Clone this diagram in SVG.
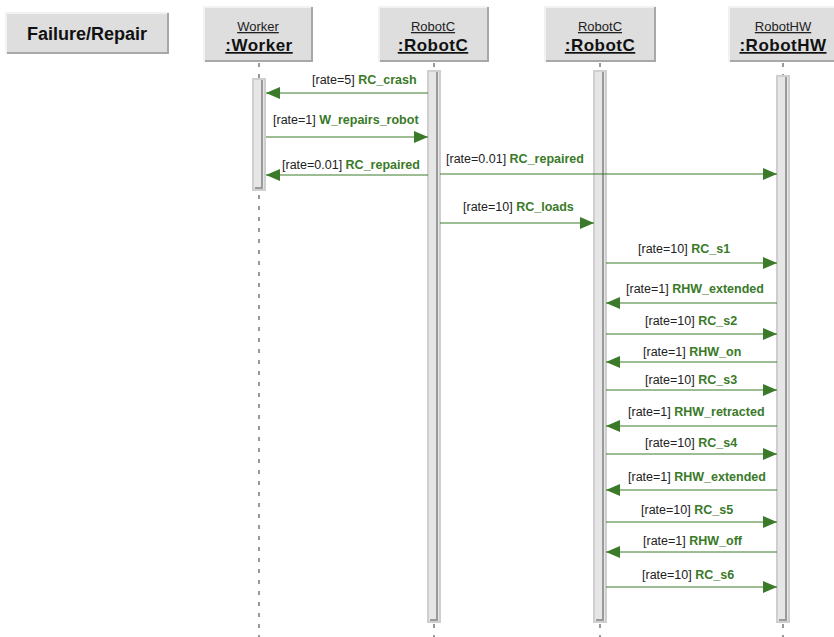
<svg xmlns="http://www.w3.org/2000/svg" width="834" height="637" viewBox="0 0 834 637">
<defs>
<marker id="ah" viewBox="0 0 14 12" refX="14" refY="6" markerWidth="14" markerHeight="12" markerUnits="userSpaceOnUse" orient="auto">
<path d="M0,0 L14,6 L0,12 Z" fill="#3a7a28"/>
</marker>
</defs>
<style>
.hdr{fill:#dedede;stroke:#f2f2f2;stroke-width:2}
.shd{stroke:#a8a8a8;stroke-width:2;fill:none}
.life{stroke:#333;stroke-width:1;stroke-dasharray:4 7}
.bar{fill:#e6e6e6;stroke:#cfcfcf;stroke-width:2}
.barshd{stroke:#9a9a9a;stroke-width:2;fill:none}
.msg{stroke:#3a7a28;stroke-width:1;fill:none;marker-end:url(#ah)}
.t{font-family:"Liberation Sans",Arial,sans-serif;font-size:12.5px;fill:#222}
.g{font-weight:bold;fill:#3a7a28}
.cls{font-family:"Liberation Sans",Arial,sans-serif;font-size:13px;fill:#222;text-anchor:middle;text-decoration:underline}
.obj{font-family:"Liberation Sans",Arial,sans-serif;font-size:17px;font-weight:bold;fill:#111;text-anchor:middle;text-decoration:underline;letter-spacing:0.5px}
.title{font-family:"Liberation Sans",Arial,sans-serif;font-size:18px;font-weight:bold;fill:#111;text-anchor:middle}
</style>

<g id="frame-label">
<rect class="hdr" x="6" y="13" width="162" height="40"/>
<path class="shd" d="M7,53 H168 V13"/>
<text class="title" x="87" y="40">Failure/Repair</text>
</g>

<g id="lifelines">
<line class="life" x1="259" y1="63" x2="259" y2="637"/>
<line class="life" x1="434" y1="63" x2="434" y2="637"/>
<line class="life" x1="600" y1="63" x2="600" y2="637"/>
<line class="life" x1="783" y1="63" x2="783" y2="637"/>
</g>

<g id="worker">
<rect class="hdr" x="204" y="7" width="108" height="54"/>
<path class="shd" d="M205,61 H312 V7"/>
<text class="cls" x="258" y="31">Worker</text>
<text class="obj" x="259" y="51">:Worker</text>
<rect class="bar" x="253" y="79" width="12" height="111"/>
<path class="barshd" d="M262,80 V188 H255"/>
</g>

<g id="robotc1">
<rect class="hdr" x="379" y="7" width="109" height="54"/>
<path class="shd" d="M380,61 H488 V7"/>
<text class="cls" x="433" y="31">RobotC</text>
<text class="obj" x="433" y="51">:RobotC</text>
<rect class="bar" x="428" y="71" width="12" height="551"/>
<path class="barshd" d="M437,72 V620 H430"/>
</g>

<g id="robotc2">
<rect class="hdr" x="545" y="7" width="110" height="54"/>
<path class="shd" d="M546,61 H655 V7"/>
<text class="cls" x="600" y="31">RobotC</text>
<text class="obj" x="600" y="51">:RobotC</text>
<rect class="bar" x="594" y="71" width="12" height="551"/>
<path class="barshd" d="M603,72 V620 H596"/>
</g>

<g id="robothw">
<rect class="hdr" x="729" y="7" width="106" height="54"/>
<path class="shd" d="M730,61 H835"/>
<text class="cls" x="783" y="31">RobotHW</text>
<text class="obj" x="783" y="51">:RobotHW</text>
<rect class="bar" x="777" y="76" width="12" height="546"/>
<path class="barshd" d="M786,77 V620 H779"/>
</g>

<g id="connectors">
<line class="msg" x1="428" y1="93" x2="266" y2="93"/>
<line class="msg" x1="266" y1="137" x2="428" y2="137"/>
<line class="msg" x1="428" y1="175" x2="266" y2="175"/>
<line class="msg" x1="440" y1="174" x2="777" y2="174"/>
<line class="msg" x1="440" y1="223" x2="594" y2="223"/>
<line class="msg" x1="606" y1="263" x2="777" y2="263"/>
<line class="msg" x1="777" y1="303" x2="606" y2="303"/>
<line class="msg" x1="606" y1="334" x2="777" y2="334"/>
<line class="msg" x1="777" y1="362" x2="606" y2="362"/>
<line class="msg" x1="606" y1="390" x2="777" y2="390"/>
<line class="msg" x1="777" y1="426" x2="606" y2="426"/>
<line class="msg" x1="606" y1="454" x2="777" y2="454"/>
<line class="msg" x1="777" y1="490" x2="606" y2="490"/>
<line class="msg" x1="606" y1="522" x2="777" y2="522"/>
<line class="msg" x1="777" y1="552" x2="606" y2="552"/>
<line class="msg" x1="606" y1="587" x2="777" y2="587"/>
</g>

<g id="labels">
<text class="t" x="312" y="84">[rate=5] <tspan class="g">RC_crash</tspan></text>
<text class="t" x="273" y="124">[rate=1] <tspan class="g">W_repairs_robot</tspan></text>
<text class="t" x="282" y="169">[rate=0.01] <tspan class="g">RC_repaired</tspan></text>
<text class="t" x="446" y="163">[rate=0.01] <tspan class="g">RC_repaired</tspan></text>
<text class="t" x="463" y="211">[rate=10] <tspan class="g">RC_loads</tspan></text>
<text class="t" x="638" y="253">[rate=10] <tspan class="g">RC_s1</tspan></text>
<text class="t" x="626" y="293">[rate=1] <tspan class="g">RHW_extended</tspan></text>
<text class="t" x="645" y="325">[rate=10] <tspan class="g">RC_s2</tspan></text>
<text class="t" x="643" y="356">[rate=1] <tspan class="g">RHW_on</tspan></text>
<text class="t" x="645" y="384">[rate=10] <tspan class="g">RC_s3</tspan></text>
<text class="t" x="628" y="416">[rate=1] <tspan class="g">RHW_retracted</tspan></text>
<text class="t" x="645" y="447">[rate=10] <tspan class="g">RC_s4</tspan></text>
<text class="t" x="628" y="481">[rate=1] <tspan class="g">RHW_extended</tspan></text>
<text class="t" x="641" y="514">[rate=10] <tspan class="g">RC_s5</tspan></text>
<text class="t" x="643" y="545">[rate=1] <tspan class="g">RHW_off</tspan></text>
<text class="t" x="642" y="579">[rate=10] <tspan class="g">RC_s6</tspan></text>
</g>
</svg>
